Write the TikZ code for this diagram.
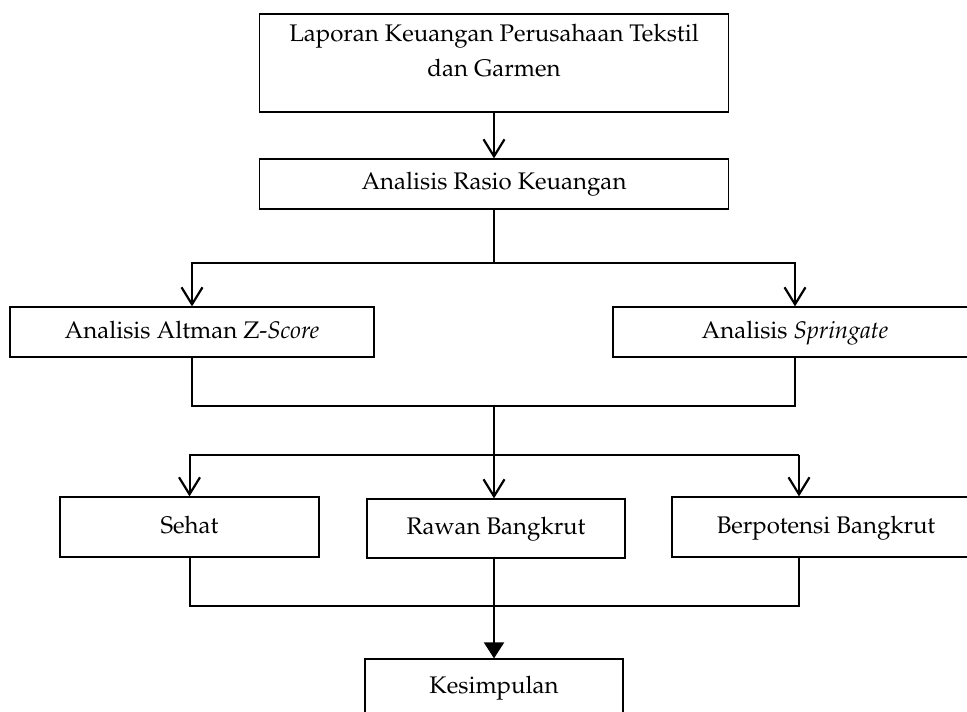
\documentclass[tikz,border=0pt]{standalone}
\IfFileExists{mathpazo.sty}{\usepackage[T1]{fontenc}\usepackage{mathpazo}}{\usepackage{fontspec}\setmainfont{Liberation Serif}}
\usetikzlibrary{arrows.meta}
\tikzset{
  frame/.style={draw, line width=0.6pt, inner sep=0pt},
  box/.style={frame, font=\fontsize{12}{14}\selectfont, text height=8.5pt, text depth=2.5pt},
  conn/.style={line width=1pt},
  openarr/.style={conn, -{Straight Barb[length=8.5pt,width=10.5pt,line width=1.1pt]}},
  fillarr/.style={conn, -{Triangle[length=8pt,width=10pt]}}
}
\begin{document}
\begin{tikzpicture}[x=0.5pt,y=-0.5pt]
\useasboundingbox (0,0) rectangle (967,711);
\clip (0,0) rectangle (967,711);
% boxes
\node[frame, minimum width=234.5pt, minimum height=49pt] (top) at (494,63) {};
\node[font=\fontsize{12}{17.5}\selectfont, align=center, inner sep=0pt] (toptext) at (494,51)
  {Laporan Keuangan Perusahaan Tekstil\\dan Garmen};
\node[box, minimum width=234.5pt, minimum height=25pt] (rasio) at (494,184) {Analisis Rasio Keuangan};
\node[box, minimum width=182pt, minimum height=25pt] (alt) at (192,332) {Analisis Altman Z-\textit{Score}};
\node[box, minimum width=182pt, minimum height=25pt] (spr) at (795,332) {Analisis \textit{Springate}};
\node[box, minimum width=129.5pt, minimum height=30pt] (seh) at (189.5,527) {Sehat};
\node[box, minimum width=129pt, minimum height=29.5pt] (raw) at (496,528.5) {Rawan Bangkrut};
\node[box, minimum width=154pt, minimum height=30pt] (bp) at (826,527) {Berpotensi Bangkrut};
\node[box, minimum width=129pt, minimum height=28pt] (kes) at (494,687) {Kesimpulan};
% junctions
\coordinate (j1) at (494,263);
\coordinate (j2) at (494,406);
\coordinate (j3) at (494,455);
\coordinate (j4) at (494,606);
\coordinate (bpin) at (799,455);
\coordinate (bpout) at (799,606);
% connectors
\draw[openarr] (top.south) -- (rasio.north);
\draw[conn] (rasio.south) -- (j1);
\draw[openarr] (j1) -| (alt.north);
\draw[openarr] (j1) -| (spr.north);
\draw[conn] (alt.south) |- (j2) -| (spr.south);
\draw[conn] (j2) -- (j3);
\draw[openarr] (j3) -| (seh.north);
\draw[openarr] (j3) -- (j3 |- raw.north);
\draw[conn] (j3) -- (bpin);
\draw[openarr] (bpin) -- (bpin |- bp.north);
\draw[conn] (seh.south) |- (j4);
\draw[conn] (bpin |- bp.south) -- (bpout) -- (j4);
\draw[fillarr] (j4 |- raw.south) -- (kes.north);
\end{tikzpicture}
\end{document}
